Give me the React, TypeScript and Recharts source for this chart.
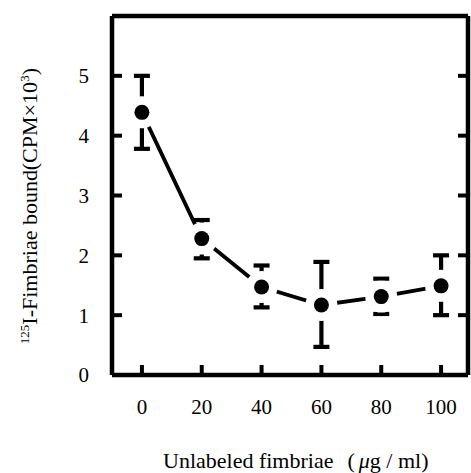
import { ErrorBar, Line, LineChart, ReferenceLine, XAxis, YAxis } from "recharts";

// unlabeled fimbriae concentration (µg/ml)
const doses = [0, 20, 40, 60, 80, 100];
// 125I-fimbriae bound, CPM x 10^3, with the ends of the error bars
const bound = [4.39, 2.28, 1.47, 1.17, 1.31, 1.49];
const errLow = [3.78, 1.95, 1.13, 0.47, 1.02, 1.0];
const errHigh = [5.0, 2.59, 1.83, 1.89, 1.61, 2.0];

const xTicks = [0, 20, 40, 60, 80, 100];
const yTicks = [0, 1, 2, 3, 4, 5];
const rightTicks = [1, 2, 3, 4, 5];

const rows = doses.map((x, i) => ({
  x,
  y: bound[i],
  err: [bound[i] - errLow[i], errHigh[i] - bound[i]],
}));

const FONT = "'Liberation Serif', 'Times New Roman', serif";
const INK = "#000";

// white disc under each marker so the connecting line stops short of it
const Halo = (p: any) => <circle key={`h${p.index}`} cx={p.cx} cy={p.cy} r={16} fill="#fff" />;
const Dot = (p: any) => <circle key={`d${p.index}`} cx={p.cx} cy={p.cy} r={7.5} fill={INK} />;

// y title runs bottom-to-top; sideways-lr where supported, rotated box otherwise
const css = `
.ytitle { position: absolute; left: 13.6px; top: 46px; width: 22px; height: 320px;
  writing-mode: sideways-lr; text-align: center; }
@supports not (writing-mode: sideways-lr) {
  .ytitle { writing-mode: horizontal-tb; left: -135.4px; top: 195px; width: 320px; height: 22px;
    transform: rotate(-90deg); }
}
.title { font-family: ${FONT}; font-size: 22px; line-height: 22px; white-space: pre; color: #000; }
.title .sup { font-size: 13px; vertical-align: 8px; }
`;

export default function App() {
  const tickStyle = { fontSize: 21, fill: INK, fontFamily: FONT };
  const axisLine = { stroke: INK, strokeWidth: 4.5 };
  const tickLine = { stroke: INK, strokeWidth: 4 };
  return (
    <div style={{ position: "absolute", left: 0, top: 0, width: 471, height: 473, background: "#fff", fontFamily: FONT }}>
      <style>{css}</style>
      <LineChart width={471} height={473} data={rows} margin={{ top: 16, right: 1, bottom: 0, left: 0 }}>
        <XAxis
          dataKey="x"
          type="number"
          domain={[-10, 109]}
          ticks={xTicks}
          interval={0}
          allowDataOverflow
          height={98}
          axisLine={axisLine}
          tickLine={tickLine}
          tickSize={-10}
          tickMargin={34}
          tick={tickStyle}
        />
        <YAxis
          yAxisId="left"
          type="number"
          domain={[0, 6]}
          ticks={yTicks}
          interval={0}
          width={112}
          axisLine={axisLine}
          tickLine={tickLine}
          tickSize={-10}
          tickMargin={33}
          tick={tickStyle}
        />
        <YAxis
          yAxisId="right"
          orientation="right"
          type="number"
          domain={[0, 6]}
          ticks={rightTicks}
          interval={0}
          width={2}
          axisLine={axisLine}
          tickLine={tickLine}
          tickSize={-10}
          tickFormatter={() => ""}
        />
        <ReferenceLine yAxisId="left" y={6} stroke={INK} strokeWidth={4.5} />
        <Line yAxisId="left" dataKey="y" stroke={INK} strokeWidth={3.8} dot={false} activeDot={false} isAnimationActive={false} />
        <Line yAxisId="right" dataKey="y" stroke="none" dot={Halo} activeDot={false} isAnimationActive={false} />
        <Line yAxisId="left" dataKey="y" stroke="none" dot={Dot} activeDot={false} isAnimationActive={false}>
          <ErrorBar dataKey="err" direction="y" width={8} stroke={INK} strokeWidth={4.2} />
        </Line>
      </LineChart>
      <div className="title" style={{ position: "absolute", left: 163, top: 450 }}>
        Unlabeled fimbriae<span style={{ marginLeft: 14 }}>(</span>
        <i style={{ marginLeft: 4 }}>μ</i>g / ml)
      </div>
      <div className="title ytitle">
        <span className="sup">125</span>I-Fimbriae bound<span style={{ marginLeft: 14 }}>(CPM×10</span>
        <span className="sup">3</span>)
      </div>
    </div>
  );
}
